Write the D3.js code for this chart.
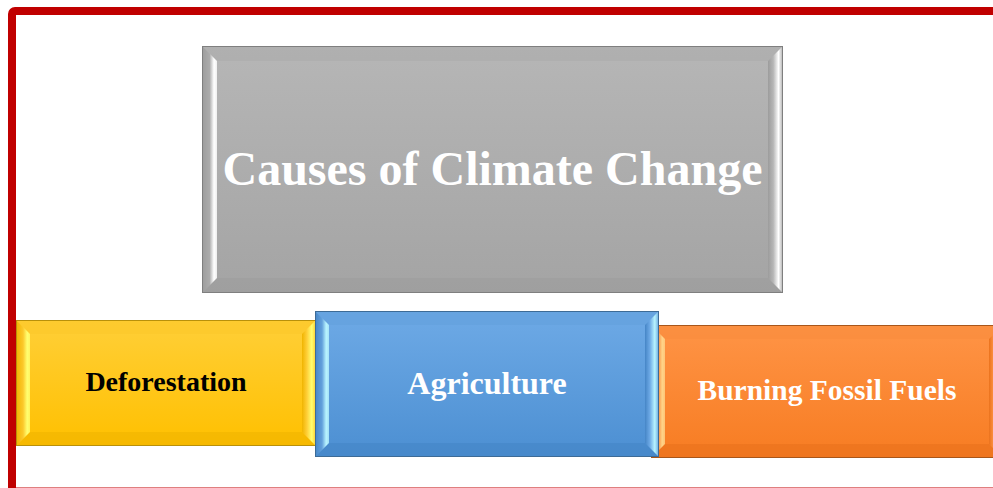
<!DOCTYPE html>
<html lang="en">
    <head>
        <style>
            body { margin: 0; background: #fff; }
            text { font-family: "Liberation Serif", "Times New Roman", serif; font-weight: bold; }
        </style>
        <script src="https://d3js.org/d3.v7.min.js"></script>
        <title>Causes of Climate Change</title>
    </head>
    <body>
        <div id="diagram"></div>
        <script>
            // content
            var title = "Causes of Climate Change";
            var causes = ["Deforestation", "Agriculture", "Burning Fossil Fuels"];

            var width = 993, height = 488;

            // layout of the boxes (pixels), kept apart from the content
            var titleBox = {x: 202, y: 46, w: 581, h: 247, bevel: 15, size: 48};
            var causeBoxes = [
                {x: 16, y: 320, w: 300, h: 126, bevel: 14, size: 28, ink: "#000"},
                {x: 315, y: 311, w: 344, h: 146, bevel: 14, size: 32, ink: "#fff"},
                {x: 651, y: 325, w: 352, h: 133, bevel: 14, size: 29.5, ink: "#fff"}
            ];
            var themes = {
                gray:   {top: "#b6b6b6", bottom: "#a4a4a4", edge: "#7f7f7f", light: "#ffffff", tb: "#ababab", bb: "#9c9c9c"},
                yellow: {top: "#ffcf38", bottom: "#ffc000", edge: "#b8900a", light: "#ffff70", tb: "#fcc82a", bb: "#f0b400"},
                blue:   {top: "#6eaae6", bottom: "#4c8fd2", edge: "#3d6b96", light: "#b8f4ff", tb: "#62a0dc", bb: "#4585c6"},
                orange: {top: "#ff9446", bottom: "#f77c22", edge: "#a8561a", light: "#ffd488", tb: "#f88c3e", bb: "#ea721c"}
            };
            var causeTheme = ["yellow", "blue", "orange"];

            var svg = d3.select("#diagram")
                .append("svg")
                    .attr("width", width)
                    .attr("height", height);

            var defs = svg.append("defs");

            function gradients(name, t) {
                var g = defs.append("linearGradient").attr("id", name + "-face")
                    .attr("x1", 0).attr("y1", 0).attr("x2", 0).attr("y2", 1);
                g.append("stop").attr("offset", 0).attr("stop-color", t.top);
                g.append("stop").attr("offset", 1).attr("stop-color", t.bottom);

                var l = defs.append("linearGradient").attr("id", name + "-left")
                    .attr("x1", 0).attr("y1", 0).attr("x2", 1).attr("y2", 0);
                l.append("stop").attr("offset", 0).attr("stop-color", t.bb);
                l.append("stop").attr("offset", 0.5).attr("stop-color", t.tb);
                l.append("stop").attr("offset", 0.8).attr("stop-color", t.light);
                l.append("stop").attr("offset", 1).attr("stop-color", t.light).attr("stop-opacity", 0.8);

                var r = defs.append("linearGradient").attr("id", name + "-right")
                    .attr("x1", 0).attr("y1", 0).attr("x2", 1).attr("y2", 0);
                r.append("stop").attr("offset", 0).attr("stop-color", t.bb);
                r.append("stop").attr("offset", 0.35).attr("stop-color", t.top);
                r.append("stop").attr("offset", 0.7).attr("stop-color", t.light);
                r.append("stop").attr("offset", 1).attr("stop-color", t.tb);
            }
            Object.keys(themes).forEach(function(k) { gradients(k, themes[k]); });

            function bevelBox(g, b, name) {
                var t = themes[name], e = b.bevel;
                var x0 = b.x, y0 = b.y, x1 = b.x + b.w, y1 = b.y + b.h;
                var line = d3.line();
                g.append("rect")
                    .attr("x", x0).attr("y", y0).attr("width", b.w).attr("height", b.h)
                    .attr("fill", "url(#" + name + "-face)");
                // top
                g.append("path").attr("d", line([[x0, y0], [x1, y0], [x1 - e, y0 + e], [x0 + e, y0 + e]]) + "Z")
                    .attr("fill", t.tb).attr("opacity", 0.6);
                // bottom
                g.append("path").attr("d", line([[x0, y1], [x0 + e, y1 - e], [x1 - e, y1 - e], [x1, y1]]) + "Z")
                    .attr("fill", t.bb).attr("opacity", 0.6);
                // left
                g.append("path").attr("d", line([[x0, y0], [x0 + e, y0 + e], [x0 + e, y1 - e], [x0, y1]]) + "Z")
                    .attr("fill", "url(#" + name + "-left)");
                // right
                g.append("path").attr("d", line([[x1, y0], [x1 - e, y0 + e], [x1 - e, y1 - e], [x1, y1]]) + "Z")
                    .attr("fill", "url(#" + name + "-right)");
                g.append("rect")
                    .attr("x", x0 + 0.5).attr("y", y0 + 0.5).attr("width", b.w - 1).attr("height", b.h - 1)
                    .attr("fill", "none").attr("stroke", t.edge).attr("stroke-width", 1);
            }

            // red frame
            svg.append("rect")
                .attr("x", 12).attr("y", 11)
                .attr("width", 1000).attr("height", 480.5)
                .attr("rx", 3)
                .attr("fill", "none")
                .attr("stroke", "#c00000")
                .attr("stroke-width", 8);

            // title box
            var tg = svg.append("g");
            bevelBox(tg, titleBox, "gray");
            tg.append("text")
                .attr("x", titleBox.x + titleBox.w / 2)
                .attr("y", titleBox.y + titleBox.h / 2 + titleBox.size * 0.331)
                .attr("text-anchor", "middle")
                .attr("font-size", titleBox.size)
                .attr("fill", "#fff")
                .text(title);

            // cause boxes: yellow, orange, then blue on top
            var order = [0, 2, 1];
            order.forEach(function(i) {
                var b = causeBoxes[i];
                var g = svg.append("g");
                bevelBox(g, b, causeTheme[i]);
                g.append("text")
                    .attr("x", b.x + b.w / 2)
                    .attr("y", b.y + b.h / 2 + b.size * 0.331 - 1)
                    .attr("text-anchor", "middle")
                    .attr("font-size", b.size)
                    .attr("fill", b.ink)
                    .text(causes[i]);
            });
        </script>
    </body>
</html>
